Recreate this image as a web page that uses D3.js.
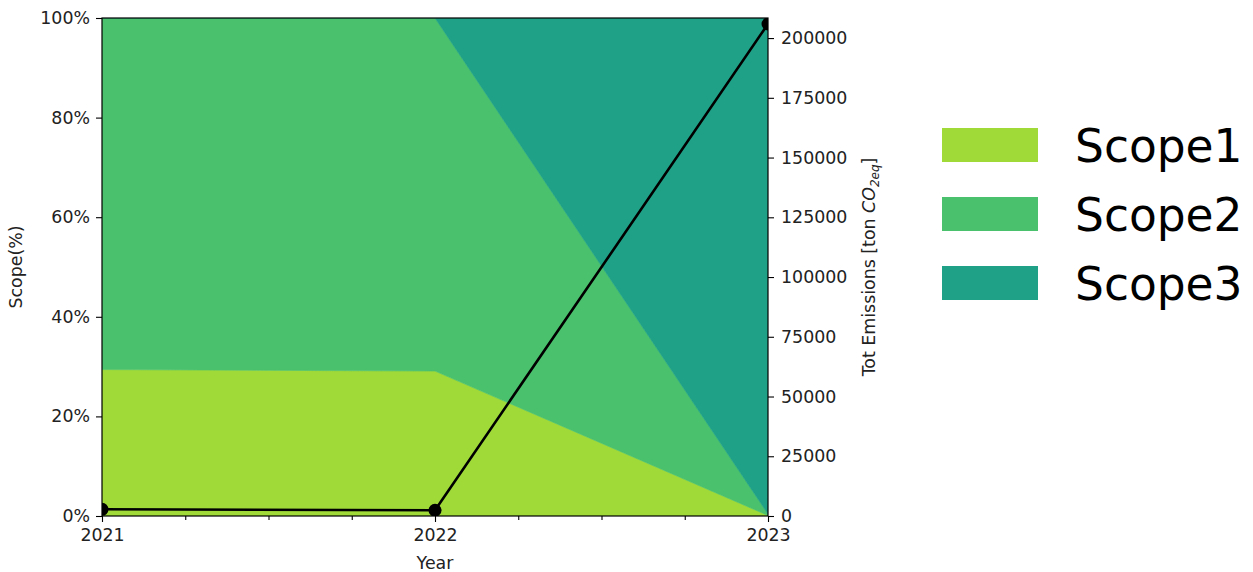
<!DOCTYPE html>
<html>
<head>
<meta charset="utf-8">
<script src="https://cdn.jsdelivr.net/npm/d3@7"></script>
<style>
  body { margin: 0; background: #fff; }
  svg { font-family: "DejaVu Sans", sans-serif; }
  .tick text { fill: #222; }
</style>
</head>
<body>
<div id="chart"></div>
<script>
const years = [2021, 2022, 2023];
const scope1 = [29.4, 29.1, 0.1];
const scope2 = [70.6, 70.9, 0.3];
const scope3 = [0, 0, 99.6];
const totEmissions = [2800, 2400, 205900];
const seriesNames = ["Scope1", "Scope2", "Scope3"];
const colors = ["#a0da39", "#4ac16d", "#1fa187"];
const pctTicks = [0, 20, 40, 60, 80, 100];
const emTicks = [0, 25000, 50000, 75000, 100000, 125000, 150000, 175000, 200000];

const W = 1253, H = 572;
const pLeft = 102, pRight = 768, pTop = 18, pBottom = 516;

const svg = d3.select("#chart").append("svg").attr("width", W).attr("height", H);

const x = d3.scaleLinear().domain([2021, 2023]).range([pLeft, pRight]);
const yPct = d3.scaleLinear().domain([0, 100]).range([pBottom, pTop]);
const yEm = d3.scaleLinear().domain([0, 208400]).range([pBottom, pTop]);

const rows = years.map((yr, i) => ({year: yr, Scope1: scope1[i], Scope2: scope2[i], Scope3: scope3[i]}));
const stacked = d3.stack().keys(seriesNames)(rows);

svg.append("clipPath").attr("id", "plotclip")
  .append("rect").attr("x", pLeft).attr("y", pTop).attr("width", pRight - pLeft).attr("height", pBottom - pTop);

const area = d3.area()
  .x(d => x(d.data.year))
  .y0(d => yPct(d[0]))
  .y1(d => yPct(d[1]));

const plot = svg.append("g").attr("clip-path", "url(#plotclip)");
plot.selectAll("path.area").data(stacked).enter().append("path")
  .attr("class", "area")
  .attr("d", area)
  .attr("fill", (d, i) => colors[i])
  .attr("stroke", (d, i) => colors[i])
  .attr("stroke-width", 0.6);

const line = d3.line().x((d, i) => x(years[i])).y(d => yEm(d));
plot.append("path").datum(totEmissions)
  .attr("d", line).attr("fill", "none").attr("stroke", "#000").attr("stroke-width", 2.6);
plot.selectAll("circle").data(totEmissions).enter().append("circle")
  .attr("cx", (d, i) => x(years[i])).attr("cy", d => yEm(d)).attr("r", 6.5).attr("fill", "#000");

// axes
const fs = "17.4px";
svg.append("g").attr("transform", "translate(0," + pBottom + ")")
  .call(d3.axisBottom(x).tickValues(years).tickFormat(d3.format("d")).tickSizeInner(6).tickSizeOuter(0).tickPadding(7));
svg.append("g").attr("transform", "translate(0," + pBottom + ")")
  .call(d3.axisBottom(x).tickValues([2021.25, 2021.5, 2021.75, 2022.25, 2022.5, 2022.75]).tickFormat("").tickSizeInner(4).tickSizeOuter(0));
svg.append("g").attr("transform", "translate(" + pLeft + ",0)")
  .call(d3.axisLeft(yPct).tickValues(pctTicks).tickFormat(d => d + "%").tickSizeInner(6).tickSizeOuter(0).tickPadding(6));
svg.append("g").attr("transform", "translate(" + pRight + ",0)")
  .call(d3.axisRight(yEm).tickValues(emTicks).tickFormat(d3.format("d")).tickSizeInner(6).tickSizeOuter(0).tickPadding(7));

svg.selectAll(".tick text").style("font-size", fs).style("font-family", "DejaVu Sans");
svg.selectAll(".tick line").attr("stroke", "#000").attr("stroke-width", 1.1);
svg.selectAll(".domain").remove();

// frame
svg.append("rect").attr("x", pLeft).attr("y", pTop).attr("width", pRight - pLeft).attr("height", pBottom - pTop)
  .attr("fill", "none").attr("stroke", "#000").attr("stroke-width", 1.2);

// axis labels
svg.append("text").attr("x", (pLeft + pRight) / 2).attr("y", 569).attr("text-anchor", "middle")
  .style("font-size", fs).attr("fill", "#222").text("Year");
svg.append("text").attr("transform", "translate(22," + ((pTop + pBottom) / 2) + ") rotate(-90)")
  .attr("text-anchor", "middle").style("font-size", fs).attr("fill", "#222").text("Scope(%)");
const rl = svg.append("text").attr("transform", "translate(875," + ((pTop + pBottom) / 2) + ") rotate(-90)")
  .attr("text-anchor", "middle").style("font-size", fs).attr("fill", "#222");
rl.append("tspan").text("Tot Emissions [ton ");
rl.append("tspan").style("font-style", "italic").text("CO");
rl.append("tspan").style("font-style", "italic").style("font-size", "12px").attr("dy", 4).text("2eq");
rl.append("tspan").attr("dy", -4).text("]");

// legend
const lg = svg.append("g").attr("transform", "translate(942,128)");
seriesNames.forEach((name, i) => {
  const g = lg.append("g").attr("transform", "translate(0," + (i * 69) + ")");
  g.append("rect").attr("width", 96).attr("height", 34).attr("fill", colors[i]);
  g.append("text").attr("x", 133).attr("y", 34).style("font-size", "45.5px").attr("fill", "#000").text(name);
});
</script>
</body>
</html>
